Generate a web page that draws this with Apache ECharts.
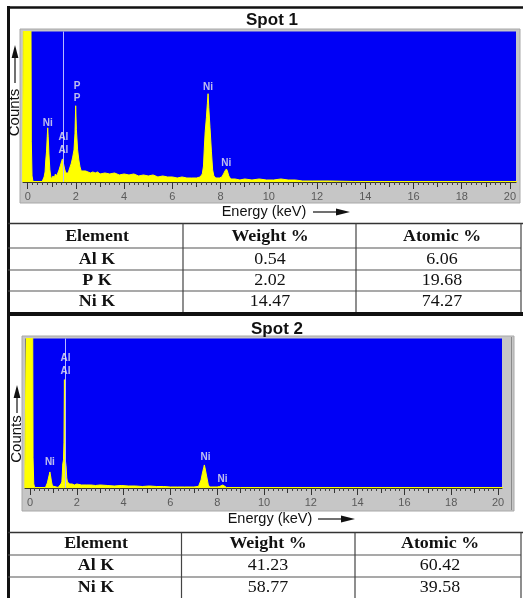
<!DOCTYPE html>
<html><head><meta charset="utf-8">
<script src="https://cdn.jsdelivr.net/npm/echarts@6/dist/echarts.min.js"></script>
<style>html,body{margin:0;padding:0;background:#fff;}#c{width:523px;height:598px;}</style>
</head><body><div id="c"></div>
<script>
// ---------- data ----------
const majorTicks = [0, 2, 4, 6, 8, 10, 12, 14, 16, 18, 20];
const midTicks = [1, 3, 5, 7, 9, 11, 13, 15, 17, 19];
const chartTitles = ['Spot 1', 'Spot 2'];
const xAxisName = 'Energy (keV)';
const yAxisName = 'Counts';

// [energy keV, counts]
const spot1Spectrum = [
  [-0.21,0],[-0.17,0],[-0.15,300],[0.12,300],[0.15,40],[0.18,6],[0.22,0.5],[0.6,0.5],[0.63,2],[0.68,5],
  [0.72,10],[0.75,22],[0.78,30],[0.81,45],[0.83,54],[0.85,45],[0.88,28],[0.92,12],[0.96,5],[1.0,3],
  [1.05,6],[1.1,4],[1.15,8],[1.2,6],[1.25,9],[1.3,12],[1.35,16],[1.4,20],[1.44,23],[1.48,19],
  [1.53,13],[1.58,9],[1.63,8],[1.68,9],[1.73,13],[1.8,18],[1.86,24],[1.92,32],[1.96,48],[1.99,76],
  [2.02,52],[2.07,32],[2.12,22],[2.17,15],[2.22,11],[2.3,10],[2.4,11],[2.5,10],[2.6,9],[2.7,10],
  [2.8,9],[2.9,10],[3.0,8],[3.2,9],[3.4,8],[3.6,9],[3.8,7],[4.0,8],[4.2,7],[4.4,8],
  [4.6,6],[4.8,7],[5.0,6],[5.2,7],[5.4,5],[5.6,6],[5.8,5],[6.0,5],[6.2,4],[6.4,5],
  [6.6,4],[6.8,4],[7.0,4],[7.15,5],[7.24,8],[7.29,16],[7.32,32],[7.36,50],[7.41,64],[7.45,78],
  [7.48,88],[7.51,74],[7.56,54],[7.62,30],[7.67,12],[7.72,6],[7.8,4],[7.95,4],[8.05,5],[8.12,8],
  [8.18,11],[8.24,13],[8.28,11],[8.34,6],[8.42,3],[8.6,3],[8.8,2],[9.0,3],[9.3,2],[9.6,3],
  [9.9,2],[10.2,2],[10.5,3],[10.8,2],[11.1,2],[11.4,1],[11.8,1],[12.5,1],[13.5,0.5],[20.3,0.5]
];
const spot2Spectrum = [
  [-0.22,0],[-0.14,0],[-0.12,300],[0.1,300],[0.13,30],[0.16,4],[0.2,0.5],[0.66,0.5],[0.7,2],[0.74,5],
  [0.78,9],[0.82,13],[0.85,16],[0.88,12],[0.92,6],[0.96,2],[1.0,0.5],[1.2,0.5],[1.26,2],[1.32,4],
  [1.36,6],[1.38,14],[1.4,24],[1.43,28],[1.45,45],[1.47,108],[1.49,50],[1.51,28],[1.54,22],[1.57,10],
  [1.6,6],[1.65,5],[1.7,4],[1.8,4],[1.9,3],[2.0,4],[2.2,3],[2.4,3],[2.6,3],[2.8,2.5],
  [3.0,3],[3.3,2.5],[3.6,2],[3.9,2.5],[4.2,2],[4.5,2],[4.8,1.5],[5.1,2],[5.4,1.5],[5.7,1.5],
  [6.0,1],[6.3,1],[6.6,1],[7.0,1],[7.2,1.5],[7.26,3],[7.31,8],[7.36,14],[7.42,20],[7.45,23],
  [7.48,20],[7.53,14],[7.58,8],[7.62,3],[7.68,1],[8.0,1],[8.1,1.5],[8.18,3],[8.24,3],[8.32,1.5],
  [8.4,0.5],[9.0,0.5],[20.3,0.5]
];
// [label, energy, counts]
const spot1PeakLabels = [['Ni',0.83,59],['Al',1.48,45],['Al',1.48,32],['P',2.05,95],['P',2.05,83],['Ni',7.48,94],['Ni',8.23,19]];
const spot2PeakLabels = [['Al',1.52,129],['Al',1.52,116],['Ni',0.85,26],['Ni',7.5,31],['Ni',8.23,9]];
const spot1Cursor = [1.47];
const spot2Cursor = [1.5];

const tableHeader = ['Element', 'Weight %', 'Atomic %'];
const spot1Elements = ['Al K', 'P K', 'Ni K'];
const spot1Weight = ['0.54', '2.02', '14.47'];
const spot1Atomic = ['6.06', '19.68', '74.27'];
const spot2Elements = ['Al K', 'Ni K'];
const spot2Weight = ['41.23', '58.77'];
const spot2Atomic = ['60.42', '39.58'];

// ---------- build ----------
const minorTicks = [];
for (let i = 0; i <= 100; i++) { if (i % 5 !== 0) minorTicks.push(i / 5); }

function xAxesFor(gridIndex, min, max) {
  const base = { type: 'value', gridIndex, min, max, position: 'bottom', offset: 0, splitLine: { show: false } };
  return [
    Object.assign({}, base, {
      axisLine: { show: true, lineStyle: { color: '#3a3a28', width: 1 } },
      axisTick: { show: true, customValues: majorTicks, length: 7, lineStyle: { color: '#333', width: 1 } },
      axisLabel: { show: true, customValues: majorTicks, color: '#5a5a5a', fontSize: 11, margin: 9, fontFamily: 'Arial' }
    }),
    Object.assign({}, base, {
      axisLine: { show: false },
      axisTick: { show: true, customValues: midTicks, length: 5, lineStyle: { color: '#333', width: 1 } },
      axisLabel: { show: false }
    }),
    Object.assign({}, base, {
      axisLine: { show: false },
      axisTick: { show: true, customValues: minorTicks, length: 3, lineStyle: { color: '#444', width: 1 } },
      axisLabel: { show: false }
    })
  ];
}

function spectrumSeries(axisIdx, data, cursors) {
  return {
    type: 'line', xAxisIndex: axisIdx * 3, yAxisIndex: axisIdx, data, symbol: 'none', showSymbol: false,
    lineStyle: { color: '#ffff00', width: 1 }, areaStyle: { color: '#ffff00', opacity: 1 },
    clip: true, animation: false, z: 3,
    markLine: { silent: true, symbol: 'none', animation: false, label: { show: false },
      lineStyle: { color: '#b8b8ff', width: 1, type: 'solid' },
      data: cursors.map(c => ({ xAxis: c })) }
  };
}
function labelSeries(axisIdx, labels) {
  return {
    type: 'scatter', xAxisIndex: axisIdx * 3, yAxisIndex: axisIdx, animation: false, z: 5,
    data: labels.map(l => [l[1], l[2], l[0]]), symbolSize: 1, itemStyle: { color: 'rgba(0,0,0,0)' },
    label: { show: true, position: 'inside', formatter: p => p.data[2], color: '#ececec', fontSize: 10, fontWeight: 'bold', fontFamily: 'Arial' }
  };
}

const G = [];
function line(x1, y1, x2, y2, color, w) { G.push({ type: 'line', z: 20, shape: { x1, y1, x2, y2 }, style: { stroke: color, lineWidth: w } }); }
function text(t, x, y, font, color, opts) {
  G.push(Object.assign({ type: 'text', z: 20, x, y, style: { text: t, x: 0, y: 0, font, fill: color, textAlign: 'center', textVerticalAlign: 'middle' } }, opts || {}));
}
function poly(points, color) { G.push({ type: 'polygon', z: 20, shape: { points }, style: { fill: color } }); }

// gray frames behind plots
G.push({ type: 'rect', z: -10, shape: { x: 20, y: 29, width: 500, height: 174 }, style: { fill: '#c6c6c6', stroke: '#a8a8a8', lineWidth: 1 } });
G.push({ type: 'rect', z: -10, shape: { x: 22, y: 336, width: 492, height: 175 }, style: { fill: '#c6c6c6', stroke: '#a8a8a8', lineWidth: 1 } });
line(511.5, 337, 511.5, 510, '#8a8a8a', 1);

// outer frame
line(8, 7.5, 523, 7.5, '#111', 2.5);
line(8.5, 6, 8.5, 598, '#111', 3);
line(8, 314, 523, 314, '#111', 4);

// titles
text(chartTitles[0], 272, 20, 'bold 17px Arial', '#111');
text(chartTitles[1], 277, 329, 'bold 17px Arial', '#111');

// axis names with arrows
text(xAxisName, 264, 212, '14.5px Arial', '#111');
line(313, 212, 338, 212, '#111', 1.2);
poly([[336, 208.5], [350, 212], [336, 215.5]], '#111');
text(xAxisName, 270, 519, '14.5px Arial', '#111');
line(318, 519, 343, 519, '#111', 1.2);
poly([[341, 515.5], [355, 519], [341, 522.5]], '#111');

text(yAxisName, 15, 112.5, '15px Arial', '#111', { rotation: Math.PI / 2 });
line(15, 83, 15, 56, '#111', 1.2);
poly([[11.6, 58], [15, 45], [18.4, 58]], '#111');
text(yAxisName, 17, 439, '15px Arial', '#111', { rotation: Math.PI / 2 });
line(17, 413, 17, 396, '#111', 1.2);
poly([[13.6, 398], [17, 385], [20.4, 398]], '#111');

// tables
function table(top, rowLines, cols, centers, rowCenters, elements, weight, atomic) {
  const bottom = rowLines[rowLines.length - 1];
  line(8, top, 523, top, '#333', 1.5);
  for (let i = 0; i < rowLines.length - 1; i++) line(8, rowLines[i], 521, rowLines[i], '#555', 1.2);
  cols.forEach(x => line(x, top, x, bottom, '#444', 1.2));
  const hf = 'bold 16px "Liberation Serif", "Times New Roman", serif';
  const nf = '16px "Liberation Serif", "Times New Roman", serif';
  const sc = { scaleX: 1.12 };
  tableHeader.forEach((h, i) => text(h, centers[i], rowCenters[0], hf, '#111', sc));
  elements.forEach((e, r) => {
    text(e, centers[0], rowCenters[r + 1], hf, '#111', sc);
    text(weight[r], centers[1], rowCenters[r + 1], nf, '#111', sc);
    text(atomic[r], centers[2], rowCenters[r + 1], nf, '#111', sc);
  });
}
table(223.5, [248, 270, 291, 312], [183, 356, 521], [97, 270, 442], [236.5, 259.5, 281, 302], spot1Elements, spot1Weight, spot1Atomic);
table(532.5, [555, 577, 599], [181.5, 355, 521], [96, 268, 440], [544, 566, 588], spot2Elements, spot2Weight, spot2Atomic);

const option = {
  animation: false,
  backgroundColor: '#ffffff',
  grid: [
    { left: 23, top: 31.5, width: 493, height: 150.5, show: true, backgroundColor: '#0000f6', borderWidth: 0, containLabel: false },
    { left: 25, top: 338.5, width: 477, height: 149.5, show: true, backgroundColor: '#0000f6', borderWidth: 0, containLabel: false }
  ],
  xAxis: [].concat(xAxesFor(0, -0.195, 20.25), xAxesFor(1, -0.214, 20.17)),
  yAxis: [
    { type: 'value', gridIndex: 0, min: 0, max: 150, show: false },
    { type: 'value', gridIndex: 1, min: 0, max: 149, show: false }
  ],
  series: [
    spectrumSeries(0, spot1Spectrum, spot1Cursor),
    labelSeries(0, spot1PeakLabels),
    spectrumSeries(1, spot2Spectrum, spot2Cursor),
    labelSeries(1, spot2PeakLabels)
  ],
  graphic: { elements: G }
};
const chart = echarts.init(document.getElementById('c'), null, { renderer: 'canvas' });
chart.setOption(option);
</script></body></html>
